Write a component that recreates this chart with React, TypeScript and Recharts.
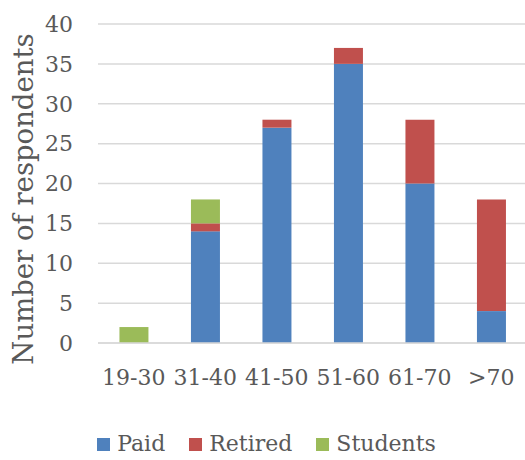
import React from 'react';
import { BarChart, Bar, XAxis, YAxis, CartesianGrid, Legend, Label } from 'recharts';

const categories = ['19-30', '31-40', '41-50', '51-60', '61-70', '>70'];
const paid = [0, 14, 27, 35, 20, 4];
const retired = [0, 1, 1, 2, 8, 14];
const students = [2, 3, 0, 0, 0, 0];
const yTicks = [0, 5, 10, 15, 20, 25, 30, 35, 40];

const seriesNames = ['Paid', 'Retired', 'Students'];
const seriesColors = ['#4F81BD', '#C0504D', '#9BBB59'];

const data = categories.map((c, i) => ({
  category: c,
  Paid: paid[i],
  Retired: retired[i],
  Students: students[i],
}));

const FONT = 'DejaVu Serif';
const TEXT = '#595959';

const renderLegend = () => (
  <div
    style={{
      height: 57,
      boxSizing: 'border-box',
      paddingTop: 29,
      paddingLeft: 6,
      display: 'flex',
      justifyContent: 'center',
      alignItems: 'flex-start',
      fontFamily: FONT,
      fontSize: 22,
      lineHeight: '24px',
      color: TEXT,
    }}
  >
    {seriesNames.map((n, i) => (
      <div
        key={n}
        style={{
          display: 'flex',
          alignItems: 'center',
          marginRight: i < seriesNames.length - 1 ? 24 : 0,
        }}
      >
        <span
          style={{
            display: 'inline-block',
            width: 13,
            height: 13,
            background: seriesColors[i],
            marginRight: 7,
          }}
        />
        <span>{n}</span>
      </div>
    ))}
  </div>
);

export default function App() {
  return (
    <div
      style={{
        position: 'absolute',
        left: 0,
        top: 0,
        width: 525,
        height: 460,
        overflow: 'hidden',
        background: '#fff',
      }}
    >
      <BarChart
        width={527}
        height={460}
        data={data}
        margin={{ top: 24, right: 0, left: 0, bottom: 0 }}
        barCategoryGap="30%"
      >
        <CartesianGrid vertical={false} stroke="#D9D9D9" strokeWidth={1.5} />
        <XAxis
          dataKey="category"
          height={60}
          tickLine={false}
          tickSize={0}
          tickMargin={26}
          axisLine={{ stroke: '#D9D9D9', strokeWidth: 1.5 }}
          tick={{ fill: TEXT, fontSize: 22, fontFamily: FONT }}
          interval={0}
        />
        <YAxis
          width={98}
          domain={[0, 40]}
          ticks={yTicks}
          axisLine={false}
          tickLine={false}
          tickSize={0}
          tickMargin={25}
          tick={{ fill: TEXT, fontSize: 22, fontFamily: FONT }}
        >
          <Label
            content={() => (
              <text
                x={33}
                y={199}
                transform="rotate(-90 33 199)"
                textAnchor="middle"
                fill={TEXT}
                fontSize={27.5}
                fontFamily={FONT}
              >
                Number of respondents
              </text>
            )}
          />
        </YAxis>
        <Legend verticalAlign="bottom" content={renderLegend} />
        <Bar dataKey="Paid" stackId="a" fill={seriesColors[0]} isAnimationActive={false} />
        <Bar dataKey="Retired" stackId="a" fill={seriesColors[1]} isAnimationActive={false} />
        <Bar dataKey="Students" stackId="a" fill={seriesColors[2]} isAnimationActive={false} />
      </BarChart>
    </div>
  );
}
